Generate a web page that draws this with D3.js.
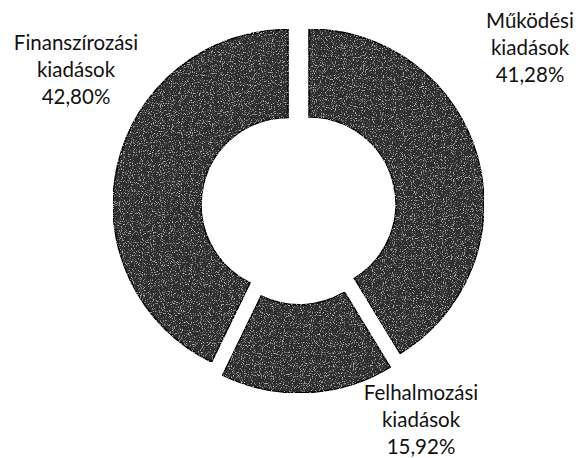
<!DOCTYPE html>
<html>
<head>
<meta charset="utf-8">
<script src="https://cdn.jsdelivr.net/npm/d3@7"></script>
<style>
  body { margin: 0; background: #fff; }
  svg { display: block; }
</style>
</head>
<body>
<div id="chart"></div>
<script>
// data
const categories = ["Működési kiadások", "Felhalmozási kiadások", "Finanszírozási kiadások"];
const shares = [41.28, 15.92, 42.80];
const labelLines = [
  ["Működési", "kiadások", "41,28%"],
  ["Felhalmozási", "kiadások", "15,92%"],
  ["Finanszírozási", "kiadások", "42,80%"]
];

const width = 581, height = 458;
const cx = 298.6, cy = 207;
const outerR = 175, innerR = 87, explode = 10.8;

// where each label block sits (x centre, first baseline)
const labelPos = [[530, 28], [421, 400], [76, 50]];

const svg = d3.select("#chart").append("svg")
  .attr("width", width)
  .attr("height", height);

// speckled texture like the scanned print
const defs = svg.append("defs");
const filt = defs.append("filter").attr("id", "grain")
  .attr("x", 0).attr("y", 0).attr("width", 1).attr("height", 1);
filt.append("feTurbulence")
  .attr("type", "fractalNoise").attr("baseFrequency", 0.9)
  .attr("numOctaves", 2).attr("seed", 3).attr("result", "noise");
filt.append("feColorMatrix").attr("in", "noise").attr("type", "matrix")
  .attr("values", "0 0 0 0 1  0 0 0 0 1  0 0 0 0 1  3.2 0 0 0 -1.8")
  .attr("result", "dots");
filt.append("feComposite").attr("in", "dots").attr("in2", "SourceGraphic")
  .attr("operator", "in").attr("result", "dotsIn");
filt.append("feComponentTransfer").attr("in", "dotsIn").attr("result", "dotsFaint")
  .append("feFuncA").attr("type", "linear").attr("slope", 0.65);
const merge = filt.append("feMerge");
merge.append("feMergeNode").attr("in", "SourceGraphic");
merge.append("feMergeNode").attr("in", "dotsFaint");

const pie = d3.pie().sort(null).value(d => d)(shares);
const arc = d3.arc().innerRadius(innerR).outerRadius(outerR);

const g = svg.append("g").attr("transform", `translate(${cx},${cy})`);

g.selectAll("path")
  .data(pie)
  .join("path")
  .attr("d", arc)
  .attr("transform", d => {
    const a = (d.startAngle + d.endAngle) / 2;
    return `translate(${Math.sin(a) * explode},${-Math.cos(a) * explode})`;
  })
  .attr("fill", "#2e2e2e")
  .attr("stroke", "#050505")
  .attr("stroke-width", 1.5)
  .attr("filter", "url(#grain)");

// labels
const labels = svg.append("g")
  .attr("font-family", "Lato, 'Open Sans', sans-serif")
  .attr("font-size", 20.5)
  .attr("fill", "#111")
  .attr("text-anchor", "middle");

labelLines.forEach((lines, i) => {
  const t = labels.append("text")
    .attr("x", labelPos[i][0])
    .attr("y", labelPos[i][1]);
  lines.forEach((s, j) => {
    t.append("tspan")
      .attr("x", labelPos[i][0])
      .attr("dy", j === 0 ? 0 : 27)
      .text(s);
  });
});
</script>
</body>
</html>
